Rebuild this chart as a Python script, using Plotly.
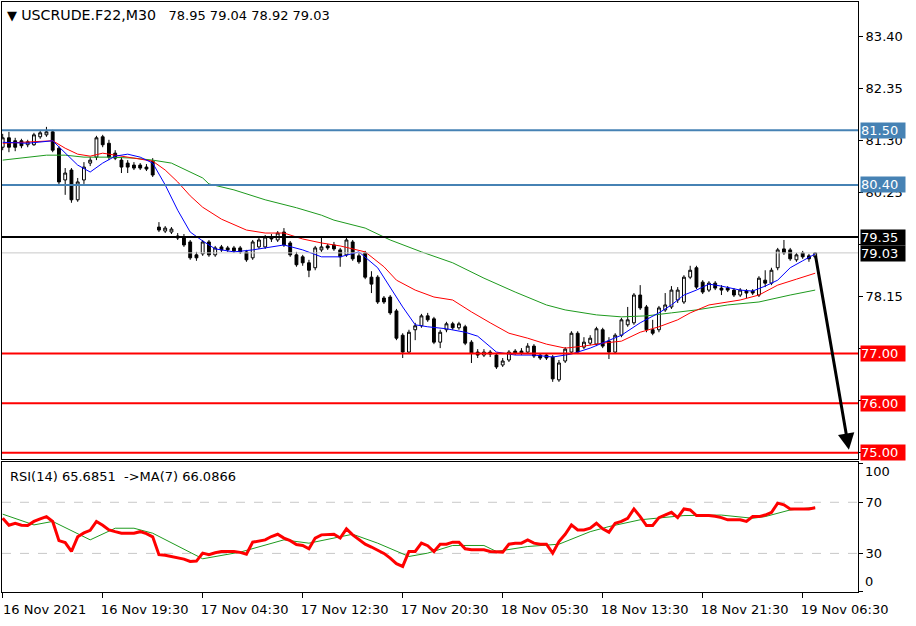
import plotly.graph_objects as go

# ---------------- data ----------------
symbol = "USCRUDE.F22,M30"
last_bar_ohlc = ["78.95", "79.04", "78.92", "79.03"]

open_ = [81.16, 81.35, 81.29, 81.29, 81.21, 81.21, 81.37, 81.41, 81.47, 81.14,
         80.50, 80.70, 80.10, 80.50, 80.84, 80.96, 81.37, 81.24, 81.04, 80.90,
         80.84, 80.80, 80.80, 80.76, 80.88, 79.55, 79.47, 79.45, 79.37, 79.35,
         79.25, 78.99, 79.01, 79.25, 78.99, 79.15, 79.13, 79.13, 79.13, 79.05,
         78.93, 79.15, 79.15, 79.35, 79.29, 79.45, 79.23, 78.99, 78.95, 78.83,
         78.73, 79.09, 79.17, 79.19, 79.09, 78.99, 79.25, 78.97, 79.03, 78.54,
         78.54, 78.12, 78.14, 77.86, 77.37, 77.03, 77.48, 77.56, 77.76, 77.70,
         77.23, 77.48, 77.60, 77.52, 77.54, 77.23, 77.03, 76.97, 77.03, 76.97,
         76.77, 76.87, 77.05, 77.05, 77.03, 77.15, 76.97, 76.97, 76.93, 76.47,
         76.85, 77.03, 77.41, 77.13, 77.21, 77.19, 77.48, 77.25, 77.03, 77.37,
         77.58, 77.62, 78.18, 77.94, 77.48, 77.48, 77.88, 77.94, 78.08, 78.04,
         78.54, 78.73, 78.44, 78.28, 78.42, 78.32, 78.32, 78.28, 78.18, 78.26,
         78.26, 78.18, 78.48, 78.42, 78.73, 79.11, 79.09, 78.89, 79.03, 78.97,
         78.95]
high_ = [81.43, 81.47, 81.35, 81.33, 81.31, 81.45, 81.49, 81.57, 81.51, 81.18,
         80.74, 80.74, 80.54, 80.86, 80.96, 81.39, 81.41, 81.31, 81.10, 80.96,
         80.90, 80.86, 80.84, 80.82, 80.94, 79.65, 79.57, 79.55, 79.43, 79.41,
         79.29, 79.05, 79.29, 79.29, 79.17, 79.19, 79.17, 79.17, 79.17, 79.09,
         79.29, 79.35, 79.39, 79.41, 79.47, 79.53, 79.27, 79.05, 78.99, 78.89,
         79.17, 79.35, 79.21, 79.25, 79.13, 79.37, 79.29, 79.03, 79.07, 78.66,
         78.58, 78.16, 78.18, 77.90, 77.41, 77.48, 77.62, 77.80, 77.82, 77.74,
         77.48, 77.64, 77.64, 77.64, 77.58, 77.27, 77.09, 77.09, 77.07, 77.01,
         76.91, 77.07, 77.09, 77.11, 77.21, 77.19, 77.01, 77.01, 76.97, 76.87,
         77.13, 77.45, 77.45, 77.33, 77.37, 77.54, 77.52, 77.33, 77.41, 77.72,
         77.94, 78.22, 78.38, 77.98, 77.68, 77.96, 78.22, 78.36, 78.34, 78.58,
         78.77, 78.77, 78.48, 78.46, 78.46, 78.38, 78.36, 78.32, 78.32, 78.30,
         78.30, 78.56, 78.68, 78.73, 79.13, 79.29, 79.13, 79.03, 79.07, 79.01,
         79.04]
low_ = [81.10, 81.06, 81.08, 81.14, 81.16, 81.19, 81.33, 81.37, 81.06, 80.40,
        80.20, 80.04, 80.06, 80.42, 80.78, 80.90, 81.16, 80.90, 80.90, 80.64,
        80.64, 80.70, 80.70, 80.68, 80.56, 79.45, 79.43, 79.41, 79.29, 79.15,
        78.89, 78.87, 78.97, 78.95, 78.95, 79.05, 79.05, 79.03, 79.01, 78.85,
        78.89, 79.11, 79.11, 79.25, 79.25, 79.15, 78.95, 78.75, 78.77, 78.54,
        78.68, 79.05, 79.09, 79.07, 78.75, 78.95, 78.87, 78.81, 78.50, 78.22,
        78.00, 78.00, 77.78, 77.27, 76.91, 76.99, 77.27, 77.52, 77.64, 77.19,
        77.11, 77.43, 77.48, 77.48, 77.17, 76.81, 76.91, 76.93, 76.93, 76.69,
        76.73, 76.83, 76.97, 76.97, 76.99, 76.91, 76.87, 76.87, 76.43, 76.43,
        76.81, 76.99, 76.99, 77.09, 77.17, 77.15, 77.11, 76.89, 76.99, 77.33,
        77.54, 77.58, 77.88, 77.43, 77.37, 77.43, 77.84, 77.90, 78.02, 78.00,
        78.50, 78.30, 78.20, 78.24, 78.28, 78.18, 78.24, 78.14, 78.14, 78.12,
        78.18, 78.14, 78.34, 78.38, 78.68, 78.99, 78.87, 78.85, 78.91, 78.85,
        78.92]
close_ = [81.35, 81.16, 81.16, 81.19, 81.27, 81.41, 81.45, 81.47, 81.10, 80.46,
          80.64, 80.10, 80.46, 80.76, 80.90, 81.35, 81.21, 80.96, 80.94, 80.76,
          80.76, 80.74, 80.74, 80.72, 80.60, 79.49, 79.53, 79.51, 79.33, 79.19,
          78.93, 78.93, 79.25, 78.99, 79.13, 79.09, 79.09, 79.07, 79.05, 78.89,
          79.25, 79.29, 79.35, 79.31, 79.43, 79.19, 78.99, 78.79, 78.83, 78.68,
          79.13, 79.15, 79.13, 79.11, 78.95, 79.29, 78.91, 78.85, 78.54, 78.40,
          78.04, 78.04, 77.82, 77.31, 77.03, 77.43, 77.56, 77.76, 77.68, 77.23,
          77.43, 77.60, 77.52, 77.60, 77.21, 77.01, 76.97, 77.03, 76.99, 76.73,
          76.85, 77.03, 77.01, 77.01, 77.15, 76.95, 76.91, 76.91, 76.49, 76.81,
          77.09, 77.41, 77.03, 77.23, 77.31, 77.50, 77.15, 77.03, 77.37, 77.68,
          77.68, 78.18, 77.92, 77.48, 77.41, 77.92, 77.98, 78.28, 78.28, 78.54,
          78.68, 78.34, 78.24, 78.42, 78.32, 78.28, 78.28, 78.18, 78.28, 78.22,
          78.22, 78.52, 78.42, 78.68, 79.09, 79.03, 78.91, 78.99, 78.95, 78.91,
          79.03]

# moving averages (bar index, price)
ma_fast_bar = [0, 4, 8, 10, 12, 14, 16, 18, 20, 22, 24, 26, 28, 30, 32, 34, 37, 40, 43, 45,
               48, 51, 54, 57, 60, 62, 64, 66, 68, 71, 74, 76, 79, 82, 85, 88, 91, 94, 97,
               99, 102, 105, 107, 109, 111, 113, 115, 118, 120, 122, 124, 126, 128, 130]
ma_fast_val = [81.26, 81.24, 81.29, 81.04, 80.80, 80.66, 80.84, 80.98, 81.02, 80.96, 80.84,
               80.40, 79.89, 79.45, 79.27, 79.11, 79.05, 79.09, 79.15, 79.19, 79.09, 78.95,
               78.95, 79.05, 78.73, 78.34, 77.94, 77.58, 77.54, 77.50, 77.43, 77.35, 77.03,
               76.97, 76.97, 76.93, 76.99, 77.11, 77.27, 77.37, 77.62, 77.82, 77.98, 78.18,
               78.28, 78.40, 78.36, 78.28, 78.26, 78.36, 78.48, 78.73, 78.87, 79.01]
ma_mid_bar = [0, 4, 8, 10, 12, 14, 16, 18, 21, 24, 26, 28, 30, 32, 35, 39, 42, 45, 48, 51,
              54, 58, 61, 63, 66, 69, 72, 75, 78, 81, 84, 87, 90, 93, 96, 99, 102, 105, 108,
              110, 113, 118, 121, 124, 127, 130]
ma_mid_val = [81.24, 81.26, 81.29, 81.14, 81.02, 80.98, 81.04, 81.00, 80.94, 80.88, 80.70,
              80.46, 80.18, 79.95, 79.71, 79.49, 79.43, 79.43, 79.31, 79.23, 79.17, 79.05,
              78.75, 78.48, 78.28, 78.14, 78.08, 77.84, 77.62, 77.41, 77.31, 77.19, 77.11,
              77.15, 77.21, 77.25, 77.43, 77.54, 77.68, 77.82, 77.98, 78.08, 78.18, 78.38,
              78.50, 78.62]
ma_slow_bar = [0, 3, 7, 10, 13, 17, 21, 24, 27, 32, 33, 37, 42, 47, 51, 53, 58, 62, 67, 72,
               77, 82, 87, 90, 95, 99, 103, 107, 111, 116, 121, 126, 130]
ma_slow_val = [80.90, 80.94, 81.00, 81.00, 80.96, 80.96, 80.94, 80.90, 80.84, 80.54, 80.42,
               80.30, 80.10, 79.94, 79.79, 79.69, 79.53, 79.29, 79.05, 78.83, 78.52, 78.24,
               77.98, 77.88, 77.78, 77.74, 77.76, 77.82, 77.88, 77.98, 78.04, 78.18, 78.28]

# RSI(14) per bar and its MA(7)
rsi = [57.5, 52, 53.6, 52, 51.8, 55, 57, 58.8, 55, 40,
       38.5, 31.5, 43, 46, 48, 55, 52, 48.4, 47, 45.8,
       45.8, 45.8, 47, 45.5, 43, 29, 28.5, 27.6, 26.3, 25.5,
       23.7, 24, 30.2, 29, 30.5, 31.5, 31.5, 31.5, 30.8, 29.4,
       38.8, 40, 40.6, 43.2, 45, 42, 40, 37, 36.2, 33.6,
       42, 44.5, 45, 45, 42, 49.2, 44.5, 41, 37.2, 35,
       32.8, 30, 26.3, 22, 19.8, 31.5, 31.5, 38, 36, 31.5,
       37.2, 37.2, 38.8, 38.8, 33.6, 32.8, 32.8, 32.8, 31.5, 31,
       31, 37.2, 38, 38, 40.6, 38, 37.2, 37.2, 30.2, 39.3,
       45, 52.3, 48.4, 48.4, 49.7, 53.6, 49.2, 46.6, 53.6, 55,
       57.5, 64.8, 58.8, 51.8, 51.8, 58, 60, 62.2, 58, 64.8,
       64, 59.6, 59.6, 59.6, 59, 58, 56.3, 56.3, 56.3, 55,
       58.8, 58.8, 60, 62, 69.3, 68, 64.8, 64.8, 64.8, 64.8,
       65.69]
rsi_ma_bar = [0, 5, 8, 14, 18, 21, 24, 32, 38, 45, 49, 56, 60, 65, 68, 72, 77, 79, 84, 89,
              94, 97, 102, 109, 115, 120, 122, 126, 130]
rsi_ma_val = [60.7, 52.3, 55, 40.6, 49.7, 49.7, 45.8, 25.8, 31, 40.6, 38, 45, 38, 27.6, 30.2,
              36.2, 36.2, 31.5, 35.4, 37.2, 47, 51, 56.3, 59.6, 60, 57.5, 58.8, 64, 66.09]
rsi_last = "65.6851"
rsi_ma_last = "66.0866"

time_tick_bar = [0, 16, 32, 48, 64, 80, 96, 112, 128]
time_tick_text = ["16 Nov 2021", "16 Nov 19:30", "17 Nov 04:30", "17 Nov 12:30",
                  "17 Nov 20:30", "18 Nov 05:30", "18 Nov 13:30", "18 Nov 21:30",
                  "19 Nov 06:30"]
price_ticks = [83.40, 82.35, 81.30, 80.25, 79.20, 78.15, 77.10, 76.05, 75.00]
price_tick_text = ["83.40", "82.35", "81.30", "80.25", "", "78.15", "", "", ""]

resistance_levels = [81.50, 80.40]
pivot_level = 79.35
bid_level = 79.03
support_levels = [77.00, 76.00, 75.00]

# ---------------- figure ----------------
FONT = "DejaVu Sans"
bars = list(range(len(close_)))

fig = go.Figure()

fig.add_trace(go.Candlestick(
    x=bars, open=open_, high=high_, low=low_, close=close_,
    increasing=dict(line=dict(color="black", width=1), fillcolor="white"),
    decreasing=dict(line=dict(color="black", width=1), fillcolor="black"),
    whiskerwidth=0, xaxis="x", yaxis="y", showlegend=False, hoverinfo="skip"))

for bx, vals, col in [(ma_slow_bar, ma_slow_val, "#1e9a1e"),
                      (ma_mid_bar, ma_mid_val, "#ff0000"),
                      (ma_fast_bar, ma_fast_val, "#0000ff")]:
    fig.add_trace(go.Scatter(x=bx, y=vals, mode="lines", line=dict(color=col, width=1),
                             xaxis="x", yaxis="y", showlegend=False, hoverinfo="skip"))

fig.add_trace(go.Scatter(x=rsi_ma_bar, y=rsi_ma_val, mode="lines",
                         line=dict(color="#1e9a1e", width=1),
                         xaxis="x2", yaxis="y2", showlegend=False, hoverinfo="skip"))
fig.add_trace(go.Scatter(x=bars, y=rsi, mode="lines",
                         line=dict(color="#ff0000", width=3),
                         xaxis="x2", yaxis="y2", showlegend=False, hoverinfo="skip"))

shapes = []
annotations = []


def level(y, color, width, label_bg):
    shapes.append(dict(type="line", xref="x domain", yref="y", x0=0, x1=1, y0=y, y1=y,
                       line=dict(color=color, width=width), layer="above"))
    if label_bg:
        annotations.append(dict(xref="paper", yref="y", x=1, y=y, xanchor="left",
                                yanchor="middle", xshift=2, text=f"{y:.2f}",
                                showarrow=False, bgcolor=label_bg, width=44, height=15,
                                align="left", borderpad=0,
                                font=dict(family=FONT, size=13, color="white")))


level(bid_level, "#c8c8c8", 1, None)
for lv in resistance_levels:
    level(lv, "#4682b4", 2, "#4682b4")
level(pivot_level, "black", 2, "black")
for lv in support_levels:
    level(lv, "#ff0000", 2, "#ff0000")
# bid label box (drawn after the pivot box)
annotations.append(dict(xref="paper", yref="y", x=1, y=bid_level, xanchor="left",
                        yanchor="middle", xshift=2, yshift=-1, text=f"{bid_level:.2f}",
                        showarrow=False, bgcolor="black", width=44, height=15,
                        align="left", borderpad=0,
                        font=dict(family=FONT, size=13, color="white")))

for lv in (70, 30):
    shapes.append(dict(type="line", xref="x2 domain", yref="y2", x0=0, x1=1, y0=lv, y1=lv,
                       line=dict(color="#c8c8c8", width=1, dash="dash"), layer="below"))

# forecast arrow from the last bar down to the lowest support
start_bar = bars[-1]
annotations.append(dict(xref="x", yref="y", axref="x", ayref="y",
                        x=start_bar + 5.4, y=support_levels[-1] + 0.06,
                        ax=start_bar, ay=close_[-1] - 0.02,
                        showarrow=True, arrowhead=2, arrowsize=1.1, arrowwidth=3,
                        arrowcolor="black", text="", standoff=0, startstandoff=0))

annotations.append(dict(xref="paper", yref="paper", x=0.0035, y=0.978, xanchor="left",
                        yanchor="middle", showarrow=False,
                        text="▼\u00a0<span style='font-size:14.2px'>" + symbol + "</span>"
                             + "\u00a0\u00a0\u00a0" + " ".join(last_bar_ohlc),
                        font=dict(family=FONT, size=13, color="black")))
annotations.append(dict(xref="paper", yref="paper", x=0.007, y=0.1966, xanchor="left",
                        yanchor="middle", showarrow=False,
                        text=f"RSI(14) {rsi_last}\u00a0\u00a0->MA(7) {rsi_ma_last}",
                        font=dict(family=FONT, size=13, color="black")))
annotations.append(dict(xref="paper", yref="y2", x=1, y=100, xanchor="left", yanchor="middle",
                        xshift=5, yshift=-8, text="100", showarrow=False,
                        font=dict(family=FONT, size=13, color="black")))
annotations.append(dict(xref="paper", yref="y2", x=1, y=0, xanchor="left", yanchor="middle",
                        xshift=5, yshift=10, text="0", showarrow=False,
                        font=dict(family=FONT, size=13, color="black")))

axis_common = dict(showgrid=False, zeroline=False, showline=True, mirror=True,
                   linecolor="black", linewidth=1)
x_range = [-0.11, 136.85]

fig.update_layout(
    width=916, height=626,
    margin=dict(l=2, r=58, t=2, b=34),
    paper_bgcolor="white", plot_bgcolor="white",
    font=dict(family=FONT, size=13, color="black"),
    boxgap=0.35,
    xaxis=dict(domain=[0, 1], range=x_range, anchor="y", showticklabels=False,
               rangeslider=dict(visible=False), **axis_common),
    yaxis=dict(domain=[0.2254, 1], range=[74.874, 84.088], side="right", anchor="x",
               tickmode="array", tickvals=price_ticks, ticktext=price_tick_text,
               ticks="outside", ticklen=4, tickcolor="black", **axis_common),
    xaxis2=dict(domain=[0, 1], range=x_range, anchor="y2", tickmode="array",
                tickvals=time_tick_bar, ticktext=time_tick_text, ticks="outside",
                ticklen=5, tickcolor="black", ticklabelshift=42, **axis_common),
    yaxis2=dict(domain=[0, 0.2203], range=[-0.2, 101.5], side="right", anchor="x2",
                tickmode="array", tickvals=[100, 70, 30, 0], ticktext=["", "70", "30", ""],
                ticks="outside", ticklen=4, tickcolor="black", **axis_common),
    shapes=shapes, annotations=annotations,
    hovermode=False,
)

fig.write_html("out.html",
               config={"displayModeBar": False},
               post_script="document.body.style.margin='0';"
                           "document.body.style.overflow='hidden';")
